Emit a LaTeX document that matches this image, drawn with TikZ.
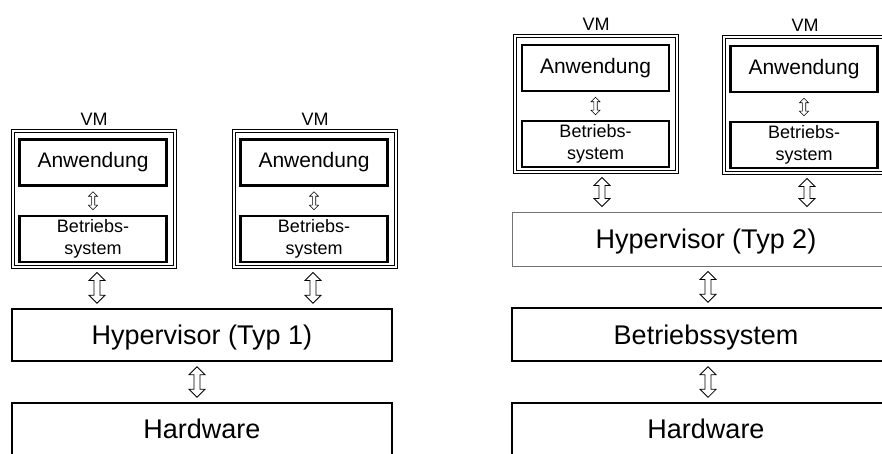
\documentclass[tikz,border=0pt]{standalone}
\usepackage{fontspec}
\setmainfont{Liberation Sans}
\usetikzlibrary{calc,positioning}

\begin{document}
\begin{tikzpicture}[x=1pt,y=-1pt,
  layerbox/.style={draw,rectangle,line width=1.4pt,minimum width=380pt,minimum height=52pt,inner sep=0pt,
    text height=19.5pt,text depth=0pt,font=\fontsize{27}{30}\selectfont},
  vmbox/.style={draw,rectangle,double,double distance=1.4pt,line width=0.9pt,minimum width=162pt,minimum height=136pt,inner sep=0pt},
  partbox/.style={draw,rectangle,line width=2.6pt,minimum width=147pt,minimum height=46pt,inner sep=0pt,align=center},
  vmlabel/.style={inner sep=0pt,font=\fontsize{18}{20}\selectfont},
  % hollow double arrow: gap, half shaft, half head, head length
  blockarrow/.style n args={4}{line width=0.8pt,to path={
    let \p1=(\tikztostart), \p2=(\tikztotarget) in
    (\x1,\y1-#1) -- (\x1+#3,\y1-#1-#4) -- (\x1+#2,\y1-#1-#4) -- (\x1+#2,\y2+#1+#4)
    -- (\x1+#3,\y2+#1+#4) -- (\x1,\y2+#1) -- (\x1-#3,\y2+#1+#4) -- (\x1-#2,\y2+#1+#4)
    -- (\x1-#2,\y1-#1-#4) -- (\x1-#3,\y1-#1-#4) -- cycle}},
  bigarrow/.style={blockarrow={5pt}{3pt}{8pt}{8pt}},
  smallarrow/.style={blockarrow={5pt}{1.7pt}{4.5pt}{4.5pt},line width=0.6pt}
]
\useasboundingbox (0,0) rectangle (882,454);
\clip (0,0) rectangle (882,454);

% Typ 1
\node[vmbox] at (94,199) (vma) {};
\node[vmbox] at (315,199) (vmb) {};
\node[vmlabel,above=5pt of vma] (vmalabel) {VM};
\node[vmlabel,above=5pt of vmb] (vmblabel) {VM};
\node[partbox,font=\fontsize{21}{24}\selectfont] at (93,162.5) (anwa) {Anwendung};
\node[partbox,font=\fontsize{18}{22}\selectfont] at (93,239) (bsa) {Betriebs-\\system};
\node[partbox,font=\fontsize{21}{24}\selectfont] at (314,162.5) (anwb) {Anwendung};
\node[partbox,font=\fontsize{18}{22}\selectfont] at (314,239) (bsb) {Betriebs-\\system};
\node[layerbox] at (202,335) (hypa) {Hypervisor (Typ 1)};
\node[layerbox] at (202,429) (hwa) {Hardware};

\draw[smallarrow] (anwa.south) to (bsa.north);
\draw[smallarrow] (anwb.south) to (bsb.north);
\draw[bigarrow] ([xshift=3pt]vma.south) to ([xshift=3pt]vma.south |- hypa.north);
\draw[bigarrow] ([xshift=-2pt]vmb.south) to ([xshift=-2pt]vmb.south |- hypa.north);
\draw[bigarrow] ([xshift=-5pt]hypa.south) to ([xshift=-5pt]hwa.north);

% Typ 2
\node[vmbox] at (596,104) (vmc) {};
\node[vmbox] at (805,105) (vmd) {};
\node[vmlabel,above=5pt of vmc] (vmclabel) {VM};
\node[vmlabel,above=5pt of vmd] (vmdlabel) {VM};
\node[partbox,font=\fontsize{21}{24}\selectfont] at (595.5,68) (anwc) {Anwendung};
\node[partbox,font=\fontsize{18}{22}\selectfont] at (595.5,144) (bsc) {Betriebs-\\system};
\node[partbox,font=\fontsize{21}{24}\selectfont] at (804,69) (anwd) {Anwendung};
\node[partbox,font=\fontsize{18}{22}\selectfont] at (804,145) (bsd) {Betriebs-\\system};
\node[layerbox,draw=black!55,line width=0.9pt,minimum width=388pt,minimum height=54pt] at (706,239) (hypb) {Hypervisor (Typ 2)};
\node[layerbox,minimum width=388pt,minimum height=53pt] at (706,334.5) (bsys) {Betriebssystem};
\node[layerbox,minimum width=388pt] at (706,429) (hwb) {Hardware};

\draw[smallarrow] (anwc.south) to (bsc.north);
\draw[smallarrow] (anwd.south) to (bsd.north);
\draw[bigarrow] ([xshift=6pt]vmc.south) to ([xshift=6pt]vmc.south |- hypb.north);
\draw[bigarrow] ([xshift=2pt]vmd.south) to ([xshift=2pt]vmd.south |- hypb.north);
\draw[bigarrow] ([xshift=2pt]hypb.south) to ([xshift=2pt]bsys.north);
\draw[bigarrow] ([xshift=2pt]bsys.south) to ([xshift=2pt]hwb.north);

\end{tikzpicture}
\end{document}
